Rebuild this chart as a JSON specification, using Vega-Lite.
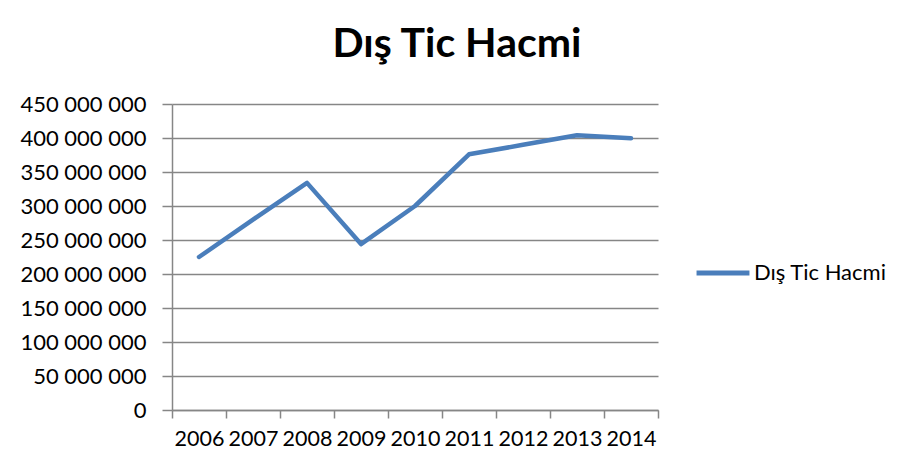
{
  "$schema": "https://vega.github.io/schema/vega-lite/v6.json",
  "width": 486,
  "height": 306,
  "autosize": {"type": "none"},
  "padding": {"left": 172, "top": 104, "right": 246, "bottom": 63},
  "background": "white",
  "config": {
    "view": {"stroke": null},
    "font": "Lato",
    "locale": {"number": {"decimal": ",", "thousands": " ", "grouping": [3], "currency": ["", ""]}}
  },
  "title": {
    "text": "Dış Tic Hacmi",
    "font": "Lato",
    "fontSize": 41,
    "fontWeight": "bold",
    "color": "#000000",
    "anchor": "middle",
    "dx": 42,
    "offset": 27
  },
  "data": {
    "values": [
      {"year": "2006", "value": 225000000, "series": "Dış Tic Hacmi"},
      {"year": "2007", "value": 280000000, "series": "Dış Tic Hacmi"},
      {"year": "2008", "value": 334000000, "series": "Dış Tic Hacmi"},
      {"year": "2009", "value": 244000000, "series": "Dış Tic Hacmi"},
      {"year": "2010", "value": 300000000, "series": "Dış Tic Hacmi"},
      {"year": "2011", "value": 376000000, "series": "Dış Tic Hacmi"},
      {"year": "2012", "value": 390000000, "series": "Dış Tic Hacmi"},
      {"year": "2013", "value": 404000000, "series": "Dış Tic Hacmi"},
      {"year": "2014", "value": 399500000, "series": "Dış Tic Hacmi"}
    ]
  },
  "mark": {"type": "line", "strokeWidth": 4.5, "strokeJoin": "round", "strokeCap": "round"},
  "encoding": {
    "x": {
      "field": "year",
      "type": "ordinal",
      "scale": {"type": "band", "paddingInner": 0, "paddingOuter": 0},
      "axis": {
        "title": null,
        "labelAngle": 0,
        "tickBand": "extent",
        "domainColor": "#868686",
        "domainWidth": 1.5,
        "tickColor": "#868686",
        "tickWidth": 1.5,
        "tickSize": 8,
        "labelFont": "Lato",
        "labelFontSize": 21.5,
        "labelColor": "#000000",
        "labelPadding": 10,
        "grid": false
      }
    },
    "y": {
      "field": "value",
      "type": "quantitative",
      "scale": {"domain": [0, 450000000], "nice": false},
      "axis": {
        "title": null,
        "values": [0, 50000000, 100000000, 150000000, 200000000, 250000000, 300000000, 350000000, 400000000, 450000000],
        "format": ",d",
        "domainColor": "#868686",
        "domainWidth": 1.5,
        "tickColor": "#868686",
        "tickWidth": 1.5,
        "tickSize": 10,
        "gridColor": "#868686",
        "gridWidth": 1.5,
        "labelFont": "Lato",
        "labelFontSize": 22,
        "labelColor": "#000000",
        "labelPadding": 16
      }
    },
    "color": {
      "field": "series",
      "type": "nominal",
      "scale": {"range": ["#4A7EBB"]},
      "legend": {
        "title": null,
        "orient": "none",
        "legendX": 522,
        "legendY": 140,
        "symbolType": "stroke",
        "symbolSize": 2800,
        "symbolStrokeWidth": 5,
        "labelFont": "Lato",
        "labelFontSize": 22,
        "labelColor": "#000000",
        "labelOffset": 2
      }
    }
  }
}
